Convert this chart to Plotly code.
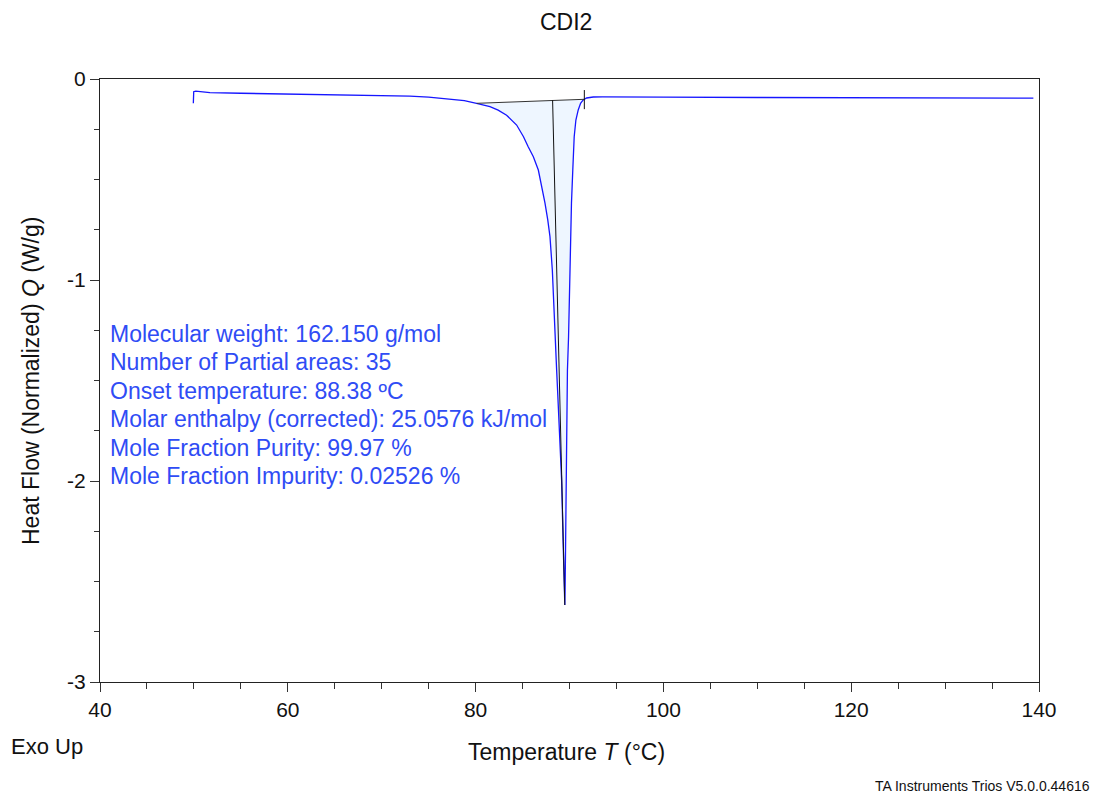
import plotly.graph_objects as go

# ---- data ----
temp = [49.94, 49.95, 49.98, 50.2, 50.6, 51.7, 55.0, 60.2, 65.0, 70.0, 73.0, 75.0, 76.2,
        77.5, 78.8, 80.1, 81.0, 81.53, 82.4, 83.3, 84.37, 85.1, 85.6, 86.15, 86.68, 87.0,
        87.39, 87.68, 87.92, 88.17, 88.35, 88.52, 88.63, 88.73, 88.9, 89.16, 89.32, 89.44,
        89.5, 89.53, 89.57, 89.62, 89.7, 89.78, 89.9, 89.97, 90.05, 90.11, 90.21, 90.35,
        90.5, 90.68, 90.93, 91.18, 91.46, 91.82, 92.53, 93.5, 97.5, 100.0, 110.0, 120.0,
        128.5, 129.0, 129.5, 139.4]
heat_flow = [-0.121, -0.09, -0.063, -0.06, -0.063, -0.068, -0.071, -0.075, -0.077, -0.080,
             -0.085, -0.090, -0.096, -0.101, -0.108, -0.121, -0.130, -0.138, -0.155, -0.180,
             -0.229, -0.287, -0.337, -0.387, -0.453, -0.52, -0.618, -0.70, -0.784, -0.95,
             -1.116, -1.282, -1.448, -1.547, -1.75, -1.995, -2.30, -2.55, -2.617, -2.55,
             -2.30, -1.995, -1.70, -1.45, -1.282, -1.116, -0.95, -0.784, -0.618, -0.453,
             -0.287, -0.204, -0.154, -0.121, -0.104, -0.0945, -0.0896, -0.089, -0.088,
             -0.090, -0.092, -0.093, -0.093, -0.091, -0.093, -0.095]

baseline_x = [80.12, 91.58]
baseline_y = [-0.121, -0.101]
partial_x = [88.2, 89.5]
partial_y = [-0.105, -2.617]
marker_x = [91.58, 91.58]
marker_y = [-0.055, -0.15]

x_ticks = [40, 60, 80, 100, 120, 140]
y_ticks = [0, -1, -2, -3]
y_tick_text = ["0", "-1", "-2", "-3"]

info_lines = [
    "Molecular weight: 162.150 g/mol",
    "Number of Partial areas: 35",
    "Onset temperature: 88.38 ºC",
    "Molar enthalpy (corrected): 25.0576 kJ/mol",
    "Mole Fraction Purity: 99.97 %",
    "Mole Fraction Impurity: 0.02526 %",
]

FONT = "Arial, Liberation Sans, sans-serif"
TEXT_BLUE = "#2f4cf5"
CURVE_BLUE = "#1616ff"

fig = go.Figure()

# shaded integration area: curve between baseline ends, closed along baseline
fx = [t for t in temp if baseline_x[0] <= t <= baseline_x[1]]
fy = [h for t, h in zip(temp, heat_flow) if baseline_x[0] <= t <= baseline_x[1]]
poly_x = [baseline_x[0]] + fx + [baseline_x[1], baseline_x[0]]
poly_y = [baseline_y[0]] + fy + [baseline_y[1], baseline_y[0]]
fig.add_trace(go.Scatter(x=poly_x, y=poly_y, mode="lines", fill="toself",
                         fillcolor="#eef6ff", line=dict(width=0), hoverinfo="skip"))

fig.add_trace(go.Scatter(x=temp, y=heat_flow, mode="lines",
                         line=dict(color=CURVE_BLUE, width=1.3)))
fig.add_trace(go.Scatter(x=baseline_x, y=baseline_y, mode="lines",
                         line=dict(color="#333333", width=1)))
fig.add_trace(go.Scatter(x=partial_x, y=partial_y, mode="lines",
                         line=dict(color="#111111", width=1)))
fig.add_trace(go.Scatter(x=marker_x, y=marker_y, mode="lines",
                         line=dict(color="#111111", width=1)))

# info text block
y0_px, step_px = 334, 28.4
for i, line in enumerate(info_lines):
    ypx = y0_px + i * step_px
    fig.add_annotation(x=40.86, y=-(ypx - 79) / 201.0, xref="x", yref="y",
                       text=line, showarrow=False, xanchor="left", yanchor="middle",
                       font=dict(family=FONT, size=23, color=TEXT_BLUE))

W, H = 1098, 795
L, R, T, B = 100, 1039, 79, 682
pw, ph = R - L, B - T


def px(xp):
    return (xp - L) / pw


def py(yp):
    return (B - yp) / ph


fig.add_annotation(x=px(566), y=py(22), xref="paper", yref="paper", text="CDI2",
                   showarrow=False, xanchor="center", yanchor="middle",
                   font=dict(family=FONT, size=23, color="#111"))
fig.add_annotation(x=px(566), y=py(752), xref="paper", yref="paper",
                   text="Temperature <i>T</i> (°C)",
                   showarrow=False, xanchor="center", yanchor="middle",
                   font=dict(family=FONT, size=23, color="#111"))
fig.add_annotation(x=px(31), y=py(381), xref="paper", yref="paper",
                   text="Heat Flow (Normalized) <i>Q</i> (W/g)", textangle=-90,
                   showarrow=False, xanchor="center", yanchor="middle",
                   font=dict(family=FONT, size=23, color="#111"))
fig.add_annotation(x=px(9), y=py(746), xref="paper", yref="paper", text="Exo Up",
                   showarrow=False, xanchor="left", yanchor="middle",
                   font=dict(family=FONT, size=22, color="#111"))
fig.add_annotation(x=px(1092), y=py(786), xref="paper", yref="paper",
                   text="TA Instruments Trios V5.0.0.44616",
                   showarrow=False, xanchor="right", yanchor="middle",
                   font=dict(family=FONT, size=14, color="#111"))

fig.update_layout(
    width=W, height=H,
    margin=dict(l=L, r=W - R, t=T, b=H - B, pad=0),
    paper_bgcolor="white", plot_bgcolor="white",
    showlegend=False,
    font=dict(family=FONT, size=21, color="#111"),
)
fig.update_xaxes(range=[40, 140], tickvals=x_ticks, ticks="outside", ticklen=9,
                 tickcolor="#333", tickwidth=1, showgrid=False, zeroline=False,
                 showline=True, linecolor="#222", linewidth=1, mirror=True,
                 tickfont=dict(size=21),
                 minor=dict(dtick=5, ticks="outside", ticklen=6, tickcolor="#333"))
fig.update_yaxes(range=[-3, 0], tickvals=y_ticks, ticktext=y_tick_text, ticks="outside",
                 ticklen=9, tickcolor="#333", tickwidth=1, showgrid=False, zeroline=False,
                 showline=True, linecolor="#222", linewidth=1, mirror=True,
                 tickfont=dict(size=21),
                 minor=dict(dtick=0.25, ticks="outside", ticklen=5, tickcolor="#333"))

fig.write_html("out.html")
